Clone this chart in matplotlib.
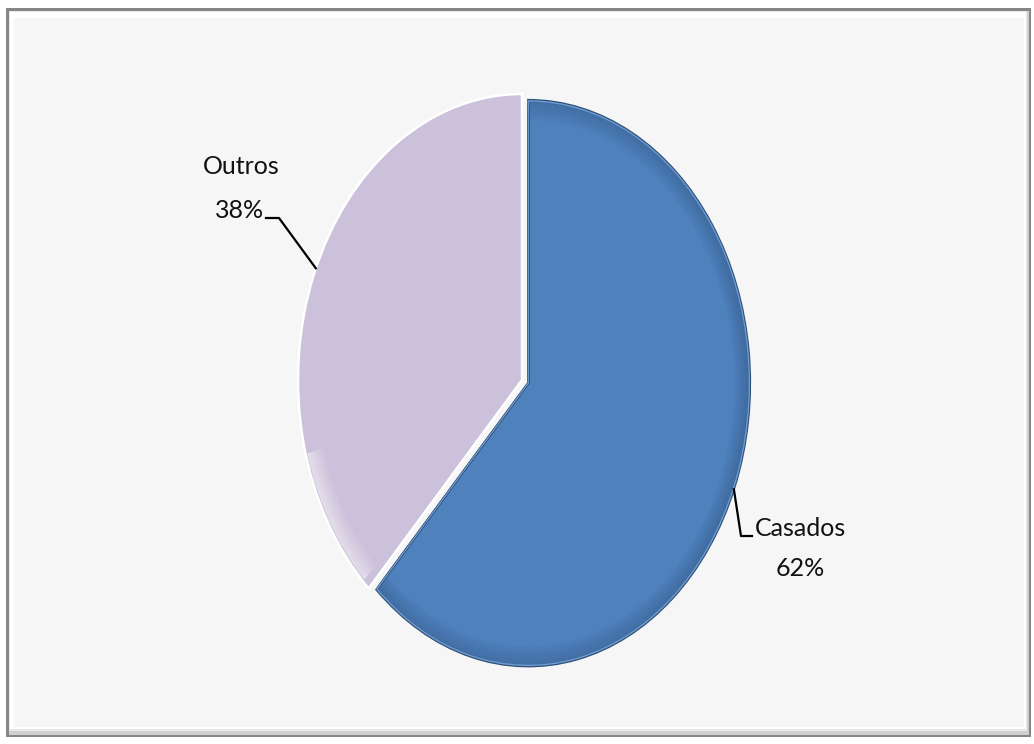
import numpy as np
import matplotlib.pyplot as plt
from matplotlib.patches import Rectangle, Wedge, Arc

labels = ["Casados", "Outros"]
shares = [62, 38]
colors = ["#4f81bd", "#ccc1da"]

plt.rcParams['font.family'] = ['Lato', 'DejaVu Sans']

W, H = 1034, 744
fig = plt.figure(figsize=(W / 100, H / 100), dpi=100)
fig.patch.set_facecolor("white")

# frame with a bevelled edge
bg = fig.add_axes([0, 0, 1, 1])
bg.set_xlim(0, W)
bg.set_ylim(H, 0)
bg.axis("off")
bg.add_patch(Rectangle((6, 8), 1025, 729, facecolor="#868686", edgecolor="none"))
bg.add_patch(Rectangle((9, 11), 1020, 724, facecolor="#d0d0d0", edgecolor="none"))
bg.add_patch(Rectangle((9, 11), 1018, 720, facecolor="#e8e8e8", edgecolor="none"))
bg.add_patch(Rectangle((10, 12), 1016, 717, facecolor="#ffffff", edgecolor="none"))
bg.add_patch(Rectangle((14, 18), 1010, 709, facecolor="#f6f6f6", edgecolor="none"))

# pie drawn on stretched axes so it comes out as a tall ellipse
cx, cy, rx, ry = 522, 380, 224, 286
ax = fig.add_axes([(cx - rx) / W, (H - cy - ry) / H, 2 * rx / W, 2 * ry / H])
wedges, _ = ax.pie(shares, colors=colors, startangle=90, counterclock=False,
                   explode=[0.03, 0], radius=1,
                   wedgeprops=dict(linewidth=0))
ax.set_aspect("auto")
ax.set_xlim(-1, 1)
ax.set_ylim(-1, 1)
ax.axis("off")

cas, out = wedges
cas.set_radius(0.99)
cas.set_edgecolor("#2f5179")
cas.set_linewidth(1.6)
out.set_edgecolor("white")
out.set_linewidth(1.8)

# bevel shading along the Casados edges
for i in range(10):
    r = cas.r - 0.005 - i * 0.007
    ax.add_patch(Wedge(cas.center, r, cas.theta1, cas.theta2, fill=False,
                       edgecolor="#1e3a5f", linewidth=1.6,
                       alpha=0.24 * (1 - i / 10), clip_on=False))
ax.add_patch(Wedge(cas.center, cas.r - 0.003, cas.theta1, cas.theta2, fill=False,
                   edgecolor="#6f9bd0", linewidth=1.0, clip_on=False))

# soft highlight on the lower left of Outros
for i in range(6):
    d = 2 * (0.985 - i * 0.012)
    ax.add_patch(Arc(out.center, d, d, theta1=195, theta2=out.theta2 - 2,
                     edgecolor="white", linewidth=2.0,
                     alpha=0.45 * (1 - i / 6), clip_on=False))

lbl_kw = dict(fontsize=18, color="#111111", ha="center", va="center")
fig.text(241 / W, 1 - 166 / H, labels[1], **lbl_kw)
fig.text(240 / W, 1 - 210 / H, f"{shares[1]}%", **lbl_kw)
fig.text(801 / W, 1 - 528 / H, labels[0], **lbl_kw)
fig.text(800 / W, 1 - 569 / H, f"{shares[0]}%", **lbl_kw)

# leader lines from the labels to the slice edges
inv = ax.transData.inverted()
def line_pts(pts):
    return inv.transform(bg.transData.transform(pts))

def anchor(w, ang):
    a = np.radians(ang)
    return (w.center[0] + np.cos(a) * w.r, w.center[1] + np.sin(a) * w.r)

for w, ang, elbow in [(out, 157, [(266, 218), (279, 218)]),
                      (cas, -22, [(752, 536), (741, 536)])]:
    p = line_pts(elbow)
    q = anchor(w, ang)
    ax.plot([p[0][0], p[1][0], q[0]], [p[0][1], p[1][1], q[1]], color="black",
            linewidth=1.6, clip_on=False)

fig.savefig("out.png", dpi=100, facecolor=fig.get_facecolor())
